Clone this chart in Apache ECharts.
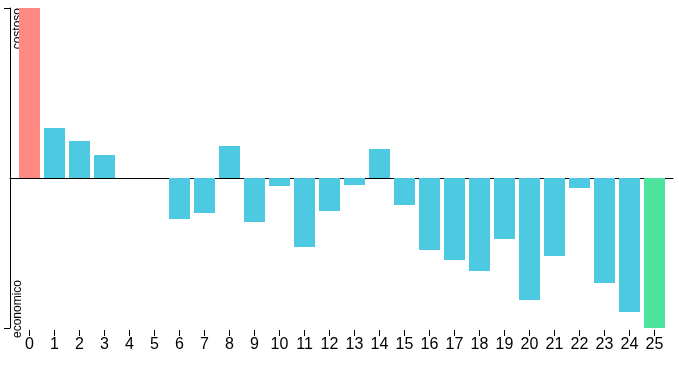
<!DOCTYPE html>
<html>
<head>
<meta charset="utf-8">
<script src="https://cdn.jsdelivr.net/npm/echarts@6/dist/echarts.min.js"></script>
<style>
html,body{margin:0;padding:0;background:#fff;}
#chart{width:679px;height:369px;}
</style>
</head>
<body>
<div id="chart"></div>
<script>
// Data
const categories = ['0','1','2','3','4','5','6','7','8','9','10','11','12','13','14','15','16','17','18','19','20','21','22','23','24','25'];
const values = [170, 50, 37, 23, 0, 0, -41, -35, 32, -44, -8, -69, -33, -7, 29, -27, -72, -82, -93, -61, -122, -78, -10, -105, -134, -150];
const yMin = -150;
const yMax = 170;
const yLabels = ['economico', 'costoso'];

const RED = '#FF8A84', GREEN = '#4CE39C', CYAN = '#4DC9E1';
const FONT = "'Liberation Sans', Arial, sans-serif";
const maxV = Math.max(...values), minV = Math.min(...values);

const chart = echarts.init(document.getElementById('chart'), null, {renderer: 'canvas'});
chart.setOption({
  animation: false,
  grid: [
    {left: 17, right: 12, top: 8, bottom: 41},
    {left: 10, right: 6, top: 8, bottom: 41}
  ],
  xAxis: [
    {
      type: 'category', gridIndex: 0, data: categories,
      position: 'bottom', offset: 2,
      axisLine: {show: false, onZero: false},
      axisTick: {show: true, alignWithLabel: true, length: 6, lineStyle: {color: '#000', width: 1}},
      axisLabel: {color: '#000', fontSize: 16, fontFamily: FONT, margin: 7, interval: 0},
      splitLine: {show: false}
    },
    {
      type: 'value', gridIndex: 1, min: 0, max: 1,
      axisLine: {show: true, onZero: true, lineStyle: {color: '#000', width: 1}},
      axisTick: {show: false}, axisLabel: {show: false}, splitLine: {show: false}
    }
  ],
  yAxis: [
    {
      type: 'value', gridIndex: 0, min: yMin, max: yMax,
      show: false
    },
    {
      type: 'value', gridIndex: 1, min: yMin, max: yMax, interval: yMax - yMin,
      axisLine: {show: true, lineStyle: {color: '#000', width: 1}},
      axisTick: {show: true, length: 6, lineStyle: {color: '#000', width: 1}},
      axisLabel: {show: false}, splitLine: {show: false}
    }
  ],
  series: [{
    type: 'bar', xAxisIndex: 0, yAxisIndex: 0,
    data: values,
    barWidth: 21,
    itemStyle: {
      color: p => p.value === maxV ? RED : (p.value === minV ? GREEN : CYAN)
    }
  }],
  graphic: [
    {
      type: 'text', x: 12, y: 8, rotation: Math.PI / 2,
      style: {text: yLabels[1], fill: '#000', font: "12px " + FONT, textAlign: 'right', textVerticalAlign: 'top'}
    },
    {
      type: 'text', x: 12, y: 338, rotation: Math.PI / 2,
      style: {text: yLabels[0], fill: '#000', font: "12px " + FONT, textAlign: 'left', textVerticalAlign: 'top'}
    }
  ]
});
</script>
</body>
</html>
